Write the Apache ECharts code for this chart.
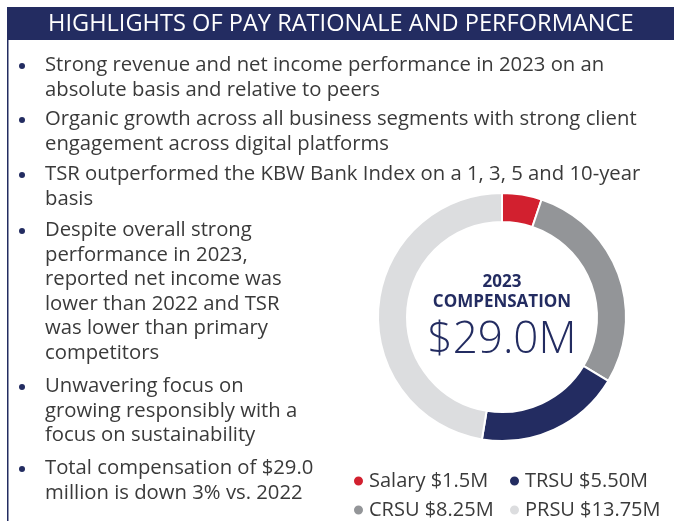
<!DOCTYPE html>
<html>
<head>
<meta charset="utf-8">
<script src="https://cdn.jsdelivr.net/npm/echarts@6/dist/echarts.min.js"></script>
<style>
  html, body { margin: 0; padding: 0; background: #fff; }
  #chart { width: 674px; height: 521px; }
</style>
</head>
<body>
<div id="chart"></div>
<script>
// pay mix, in clockwise order from 12 o'clock
const components = ['Salary', 'CRSU', 'TRSU', 'PRSU'];
const amounts = [1.5, 8.25, 5.5, 13.75];
const amountLabels = ['$1.5M', '$8.25M', '$5.50M', '$13.75M'];
const year = '2023';
const totalLabel = '$29.0M';

const title = 'HIGHLIGHTS OF PAY RATIONALE AND PERFORMANCE';
const bullets = [
  ['Strong revenue and net income performance in 2023 on an', 'absolute basis and relative to peers'],
  ['Organic growth across all business segments with strong client', 'engagement across digital platforms'],
  ['TSR outperformed the KBW Bank Index on a 1, 3, 5 and 10-year', 'basis'],
  ['Despite overall strong', 'performance in 2023,', 'reported net income was', 'lower than 2022 and TSR', 'was lower than primary', 'competitors'],
  ['Unwavering focus on', 'growing responsibly with a', 'focus on sustainability'],
  ['Total compensation of $29.0', 'million is down 3% vs. 2022']
];

// layout
const bulletTop = [66, 120, 175, 231, 387, 469];
const lineH = 24.5;
const NAVY = '#232c61';
const TEXT = '#3a3a3a';
const FONT = '"Open Sans", sans-serif';
const colors = ['#d2202f', '#939598', '#232c61', '#dcdddf'];

const chart = echarts.init(document.getElementById('chart'));

const graphics = [
  { type: 'rect', shape: { x: 7, y: 7, width: 667, height: 33 }, style: { fill: NAVY } },
  { type: 'rect', shape: { x: 7, y: 40, width: 1.5, height: 481 }, style: { fill: NAVY } },
  {
    type: 'text', x: 48, y: 24,
    style: { text: title, fill: '#fff', font: '23.6px ' + FONT, textAlign: 'left', textVerticalAlign: 'middle' }
  },
  {
    type: 'text', x: 502, y: 282,
    style: { text: year, fill: NAVY, font: 'bold 17px ' + FONT, textAlign: 'center', textVerticalAlign: 'middle' }
  },
  {
    type: 'text', x: 502, y: 302,
    style: { text: 'COMPENSATION', fill: NAVY, font: 'bold 17px ' + FONT, textAlign: 'center', textVerticalAlign: 'middle' }
  },
  {
    type: 'text', x: 502, y: 340,
    style: { text: totalLabel, fill: NAVY, font: '300 44px ' + FONT, textAlign: 'center', textVerticalAlign: 'middle' }
  }
];

bullets.forEach((lines, i) => {
  graphics.push({
    type: 'circle', shape: { cx: 22, cy: bulletTop[i], r: 3 }, style: { fill: NAVY }
  });
  graphics.push({
    type: 'text', x: 45, y: bulletTop[i] - lineH / 2 - 0.5,
    style: {
      text: lines.join('\n'), fill: TEXT, font: '20.3px ' + FONT,
      lineHeight: lineH, textAlign: 'left', textVerticalAlign: 'top'
    }
  });
});

const legendBase = {
  orient: 'vertical',
  top: 471,
  height: 50,
  padding: 0,
  itemGap: 9,
  icon: 'circle',
  itemWidth: 11,
  itemHeight: 11,
  selectedMode: false,
  formatter: name => name + ' ' + amountLabels[components.indexOf(name)],
  textStyle: { fontSize: 20, lineHeight: 20, color: TEXT, fontFamily: FONT }
};

chart.setOption({
  animation: false,
  color: colors,
  legend: [
    Object.assign({}, legendBase, { left: 352, data: ['Salary', 'CRSU'] }),
    Object.assign({}, legendBase, { left: 508, data: ['TRSU', 'PRSU'] })
  ],
  graphic: graphics,
  series: [{
    type: 'pie',
    center: [502, 317],
    radius: [95, 124],
    startAngle: 90,
    silent: true,
    label: { show: false },
    labelLine: { show: false },
    itemStyle: { borderColor: '#fff', borderWidth: 2 },
    data: components.map((c, i) => ({ name: c, value: amounts[i] }))
  }]
});
</script>
</body>
</html>
